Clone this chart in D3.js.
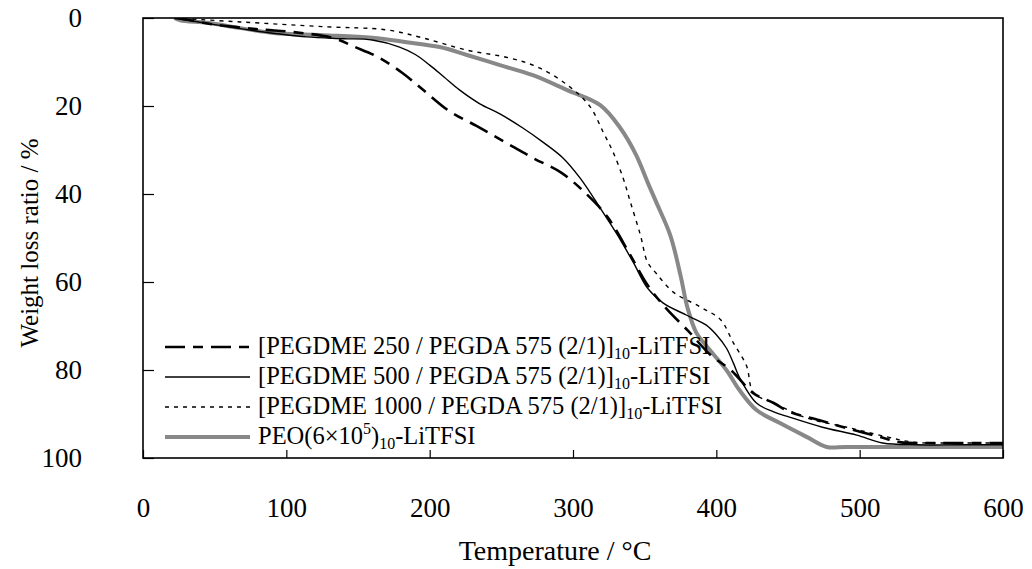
<!DOCTYPE html>
<html><head><meta charset="utf-8">
<script src="https://cdn.jsdelivr.net/npm/d3@7"></script>
<style>
body{margin:0;background:#fff;}
svg text{font-family:"Liberation Serif","Times New Roman",serif;fill:#000;}
</style></head>
<body><svg id="chart" width="1032" height="569"></svg>
<script>
const xTicks = [0,100,200,300,400,500,600];
const yTicks = [0,20,40,60,80,100];
const xTitle = "Temperature / °C";
const yTitle = "Weight loss ratio / %";

const s250T = [22,33,50,75,86,105,132,148,164,181,196,213,233,253,272,292,310,324,340,352,365,380,396,410,426,440,451,472,491,514,528,550,575,600];
const s250W = [0,0.5,1.5,2.4,2.7,3.2,4.5,6.6,8.9,12.5,16.5,21,24.6,28.3,31.8,35.2,40.2,45.2,53.9,60.7,66,71,76.6,80,85.3,87.5,89.5,91.4,93.2,95.2,96.4,96.6,96.6,96.6];

const s500T = [22,50,80,114,140,160,179,190,200,210,221,235,249,265,279,293,305,319,331,342,352,363,379,393,400,407,412,416,428,440,451,474,498,516,540,570,600];
const s500W = [0,1.5,3,4.3,4.7,5,6.6,8.3,10.7,13.4,16.4,19.5,21.8,25,28.2,31.8,36.4,43.2,49.3,55.5,61.4,64.8,67.5,69.8,72,75,78.5,81.6,87.5,89.5,90.7,93,94.8,96.6,97,97,97];

const s1000T = [22,68,128,170,195,226,256,277,298,312,321,328,335,340,347,352,358,370,389,403,412,421,426,440,463,491,519,537,560,580,600];
const s1000W = [0,0.9,2,2.7,4.5,7.3,9.1,11.4,15.7,20.2,25.9,30.5,36.4,41.8,49.3,55.5,58,62.3,65.7,68.6,73.9,79,85.2,87.5,90.9,93,95.2,96.4,96.6,96.6,96.6];

const peoT = [22,26,45,68,91,126,160,184,207,226,249,272,296,319,333,344,352,358,368,375,380,386,393,407,416,428,444,463,477,490,520,560,600];
const peoW = [0,0.5,1.1,2.3,3.4,3.9,4.5,5.5,6.6,8.4,10.7,13,16.4,19.8,25,31.1,37.3,41.8,49.5,58.5,66,71.5,74.5,80,84.5,89.1,92,95.2,97.5,97.5,97.5,97.5,97.5];

const seriesNames = [
  ["[PEGDME 250 / PEGDA 575 (2/1)]", "10", "-LiTFSI"],
  ["[PEGDME 500 / PEGDA 575 (2/1)]", "10", "-LiTFSI"],
  ["[PEGDME 1000 / PEGDA 575 (2/1)]", "10", "-LiTFSI"],
  ["PEO(6×10", "5", ")", "10", "-LiTFSI"]
];

const styles = [
  {stroke:"#000", width:2.6, dash:"20,8,10,8"},
  {stroke:"#000", width:1.4, dash:null},
  {stroke:"#000", width:1.4, dash:"4,5"},
  {stroke:"#888", width:4, dash:null}
];

const series = [
  {T:s250T, W:s250W},
  {T:s500T, W:s500W},
  {T:s1000T, W:s1000W},
  {T:peoT, W:peoW}
];

const svg = d3.select("#chart");
const m = {left:143, right:29, top:18, bottom:111};
const W = 1032 - m.left - m.right, H = 569 - m.top - m.bottom;
const g = svg.append("g").attr("transform",`translate(${m.left},${m.top})`);

const x = d3.scaleLinear().domain([0,600]).range([0,W]);
const y = d3.scaleLinear().domain([0,100]).range([0,H]);

const xAxis = g.append("g").attr("transform",`translate(0,${H})`)
  .call(d3.axisBottom(x).tickValues(xTicks).tickSizeInner(-8).tickSizeOuter(0).tickPadding(40));
const yAxis = g.append("g")
  .call(d3.axisLeft(y).tickValues(yTicks).tickSizeInner(-11).tickSizeOuter(0).tickPadding(61));
[xAxis,yAxis].forEach(a=>{
  a.select(".domain").remove();
  a.selectAll("line").attr("stroke","#000").attr("stroke-width",1.2);
  a.selectAll("text").attr("font-size",27).attr("font-family","Liberation Serif");
});

const line = d3.line().curve(d3.curveCatmullRom.alpha(0.5)).x(d=>x(d[0])).y(d=>y(d[1]));
const clip = g.append("clipPath").attr("id","clip").append("rect").attr("width",W).attr("height",H);
const plot = g.append("g").attr("clip-path","url(#clip)");
[3,2,1,0].forEach(i=>{
  const s = series[i], st = styles[i];
  plot.append("path").datum(s.T.map((t,j)=>[t,s.W[j]]))
    .attr("d",line).attr("fill","none").attr("stroke",st.stroke)
    .attr("stroke-width",st.width).attr("stroke-dasharray",st.dash)
    .attr("stroke-linejoin","round");
});

g.append("rect").attr("width",W).attr("height",H).attr("fill","none")
  .attr("stroke","#000").attr("stroke-width",1.6);

// legend
const lg = svg.append("g");
seriesNames.forEach((parts,i)=>{
  const base = 354 + i*30;
  const st = styles[i];
  lg.append("line").attr("x1",165).attr("x2",250).attr("y1",base-7).attr("y2",base-7)
    .attr("stroke",st.stroke).attr("stroke-width",st.width).attr("stroke-dasharray",st.dash);
  const t = lg.append("text").attr("x",258).attr("y",base).attr("font-size",24.5);
  if (parts.length===3){
    t.append("tspan").text(parts[0]);
    t.append("tspan").attr("font-size",16).attr("dy",5).text(parts[1]);
    t.append("tspan").attr("dy",-5).text(parts[2]);
  } else {
    t.append("tspan").text(parts[0]);
    t.append("tspan").attr("font-size",16).attr("dy",-10).text(parts[1]);
    t.append("tspan").attr("dy",10).text(parts[2]);
    t.append("tspan").attr("font-size",16).attr("dy",5).text(parts[3]);
    t.append("tspan").attr("dy",-5).text(parts[4]);
  }
});

svg.append("text").attr("x",555).attr("y",560).attr("text-anchor","middle")
  .attr("font-size",28).text(xTitle);
svg.append("text").attr("transform","translate(38,243) rotate(-90)").attr("text-anchor","middle")
  .attr("font-size",25).text(yTitle);
</script></body></html>
